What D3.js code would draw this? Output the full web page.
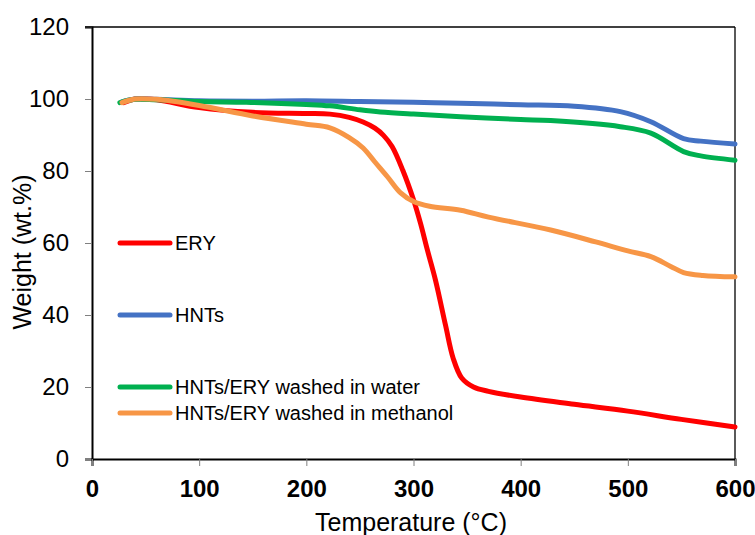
<!DOCTYPE html>
<html>
<head>
<meta charset="utf-8">
<script src="https://cdn.jsdelivr.net/npm/d3@7"></script>
<style>
  body { margin: 0; background: #fff; }
  text { font-family: "Liberation Sans", Arial, sans-serif; fill: #000; }
</style>
</head>
<body>
<div id="chart"></div>
<script>
// data: [temperature °C, weight %]
var xTicks = [0, 100, 200, 300, 400, 500, 600];
var yTicks = [0, 20, 40, 60, 80, 100, 120];

var ery = [[30,99],[40,100],[60,99.8],[100,97.6],[150,96.3],[200,96],[222,95.8],[240,94.9],[253,93.6],
  [264,91.9],[272,89.9],[280,86.8],[290,80.2],[300,72],[306.5,65.5],[313,58],[320.5,49.7],[330,37],
  [337,28],[345,22.5],[356,20],[370,18.8],[400,17.2],[450,15.2],[500,13.3],[550,11],[600,8.9]];
var hnts = [[28,99.2],[40,100],[60,99.9],[100,99.5],[150,99.4],[200,99.5],[250,99.3],[300,99.1],[344,98.8],
  [400,98.4],[450,98],[493,96.5],[521.5,93.7],[552,89],[568,88.3],[600,87.5]];
var water = [[26,99],[40,99.9],[60,99.8],[100,99.3],[144,99.1],[200,98.5],[222,98.1],[250,97],[269,96.4],
  [300,95.8],[344,95.1],[400,94.3],[428,94],[493,92.3],[521.5,90.5],[552,85.4],[568,84.2],[600,83]];
var methanol = [[28,99],[40,100],[60,99.9],[100,98.2],[150,95.3],[200,93],[222,92],[240,89.3],
  [253,86.4],[264,82.5],[275.7,78.4],[288,73.9],[300,71.5],[315,70.2],[344,69.1],[370,67.2],[428,63.6],
  [470,60.3],[500,57.8],[521.5,56.2],[540,53.5],[552,51.8],[570,51],[600,50.6]];

var series = [
  { name: "ERY", values: ery, color: "#ff0000" },
  { name: "HNTs", values: hnts, color: "#4472c4" },
  { name: "HNTs/ERY washed in water", values: water, color: "#00b050" },
  { name: "HNTs/ERY washed in methanol", values: methanol, color: "#f79646" }
];
var legendY = [243, 315, 387, 413];

var width = 755, height = 535;
var margin = { left: 92, right: 20, top: 27, bottom: 76 };

var svg = d3.select("#chart").append("svg")
  .attr("width", width).attr("height", height);

var x = d3.scaleLinear().domain([0, 600]).range([margin.left, width - margin.right - 0]);
var y = d3.scaleLinear().domain([0, 120]).range([height - margin.bottom, margin.top]);

// y axis
var yAxis = svg.append("g")
  .attr("transform", "translate(" + margin.left + ",0)")
  .call(d3.axisLeft(y).tickValues(yTicks).tickSize(7).tickPadding(16));
yAxis.select(".domain").attr("stroke", "#000").attr("stroke-width", 2);
yAxis.selectAll(".tick line").attr("stroke", "#808080");
yAxis.selectAll(".tick text").style("font-size", "24px").attr("fill", "#000");

// x axis
var xAxis = svg.append("g")
  .attr("transform", "translate(0," + y(0) + ")")
  .call(d3.axisBottom(x).tickValues(xTicks).tickSize(7).tickPadding(14));
xAxis.select(".domain").attr("stroke", "#000").attr("stroke-width", 2);
xAxis.selectAll(".tick line").attr("stroke", "#808080");
xAxis.selectAll(".tick text").style("font-size", "24px").style("font-weight", "bold").attr("fill", "#000");

// top and right frame
svg.append("line").attr("x1", x(0) - 7).attr("x2", x(600)).attr("y1", y(120)).attr("y2", y(120))
  .attr("stroke", "#000").attr("stroke-width", 1.3);
svg.append("line").attr("x1", x(600)).attr("x2", x(600)).attr("y1", y(120)).attr("y2", y(0))
  .attr("stroke", "#000").attr("stroke-width", 1.3);

var line = d3.line()
  .x(function(d) { return x(d[0]); })
  .y(function(d) { return y(d[1]); })
  .curve(d3.curveCatmullRom.alpha(0.5));

svg.selectAll(".series").data(series).enter().append("path")
  .attr("class", "series")
  .attr("d", function(d) { return line(d.values); })
  .attr("fill", "none")
  .attr("stroke", function(d) { return d.color; })
  .attr("stroke-width", 5)
  .attr("stroke-linecap", "round");

// legend
var legend = svg.selectAll(".legend").data(series).enter().append("g")
  .attr("class", "legend")
  .attr("transform", function(d, i) { return "translate(120," + legendY[i] + ")"; });
legend.append("line").attr("x1", 0).attr("x2", 50)
  .attr("stroke", function(d) { return d.color; }).attr("stroke-width", 5).attr("stroke-linecap", "round");
legend.append("text").attr("x", 55).attr("dy", "0.35em")
  .style("font-size", "20px")
  .text(function(d) { return d.name; });

// axis titles
svg.append("text")
  .attr("x", 411).attr("y", 531)
  .attr("text-anchor", "middle")
  .style("font-size", "25px")
  .text("Temperature (°C)");

svg.append("text")
  .attr("transform", "translate(31,252) rotate(-90)")
  .attr("text-anchor", "middle")
  .style("font-size", "25px")
  .text("Weight (wt.%)");
</script>
</body>
</html>
